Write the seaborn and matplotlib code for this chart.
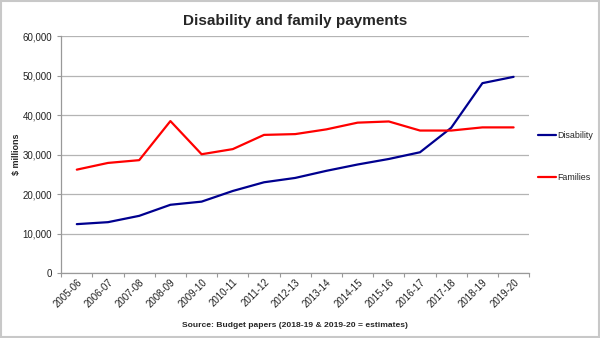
import matplotlib
matplotlib.use("Agg")
import matplotlib.pyplot as plt
import seaborn as sns
import pandas as pd
from matplotlib.patches import Rectangle
from matplotlib.ticker import FuncFormatter, FixedLocator

years = ["2005-06", "2006-07", "2007-08", "2008-09", "2009-10", "2010-11", "2011-12",
         "2012-13", "2013-14", "2014-15", "2015-16", "2016-17", "2017-18", "2018-19", "2019-20"]
disability = [12400, 12900, 14500, 17300, 18100, 20800, 23000, 24100, 25900, 27500,
              28900, 30600, 36800, 48100, 49700]
families = [26200, 27900, 28600, 38500, 30100, 31400, 35000, 35200, 36400, 38100,
            38400, 36100, 36100, 36900, 36900]
series_names = ["Disability", "Families"]
colors = {"Disability": "#00008F", "Families": "#FF0000"}

df = pd.DataFrame({
    "year": years * 2,
    "value": disability + families,
    "series": [series_names[0]] * len(years) + [series_names[1]] * len(years),
})

sns.set_style("white")
plt.rcParams["font.family"] = ["Liberation Sans", "DejaVu Sans"]

fig = plt.figure(figsize=(6, 3.38), dpi=100)
ax = fig.add_axes([0.102, 0.192, 0.78, 0.701])

sns.lineplot(data=df, x="year", y="value", hue="series", palette=colors,
             linewidth=1.6, ax=ax, sort=False)

ax.set_xlim(-0.5, len(years) - 0.5)
ax.set_ylim(0, 60000)
ax.set_yticks(range(0, 60001, 10000))
ax.yaxis.set_major_formatter(FuncFormatter(lambda v, p: f"{int(v):,}"))
ax.grid(axis="y", color="#b4b4b4", linewidth=0.9)
ax.set_axisbelow(True)

ax.set_xticks(range(len(years)))
ax.set_xticklabels(years, rotation=45, ha="right", rotation_mode="anchor", fontsize=7, color="#222222")
ax.tick_params(axis="x", which="major", length=0, pad=3)
ax.xaxis.set_minor_locator(FixedLocator([i - 0.5 for i in range(len(years) + 1)]))
ax.tick_params(axis="x", which="minor", length=3, color="#999999", width=0.8, bottom=True)
ax.tick_params(axis="y", labelsize=7, colors="#222222", length=3, left=True, color="#999999", width=0.8)

for s in ["top", "right"]:
    ax.spines[s].set_visible(False)
for s in ["left", "bottom"]:
    ax.spines[s].set_color("#999999")
    ax.spines[s].set_linewidth(0.9)

ax.set_xlabel("Source: Budget papers (2018-19 & 2019-20 = estimates)", fontsize=6.1,
              fontweight="bold", labelpad=9)
ax.set_ylabel(r"\$ millions", fontsize=6.5, fontweight="bold", labelpad=1)
ax.set_title("Disability and family payments", fontsize=11, fontweight="bold", pad=8)

leg = ax.legend(loc="upper left", bbox_to_anchor=(1.0, 0.636), frameon=False, fontsize=6.4,
                handlelength=2.0, handletextpad=0.1, labelspacing=3.7, borderaxespad=0.6,
                title=None)

fig.patches.append(Rectangle((0.002, 0.003), 0.996, 0.994, transform=fig.transFigure,
                             fill=False, edgecolor="#c8c8c8", linewidth=1.5))

fig.savefig("out.png", dpi=100)
